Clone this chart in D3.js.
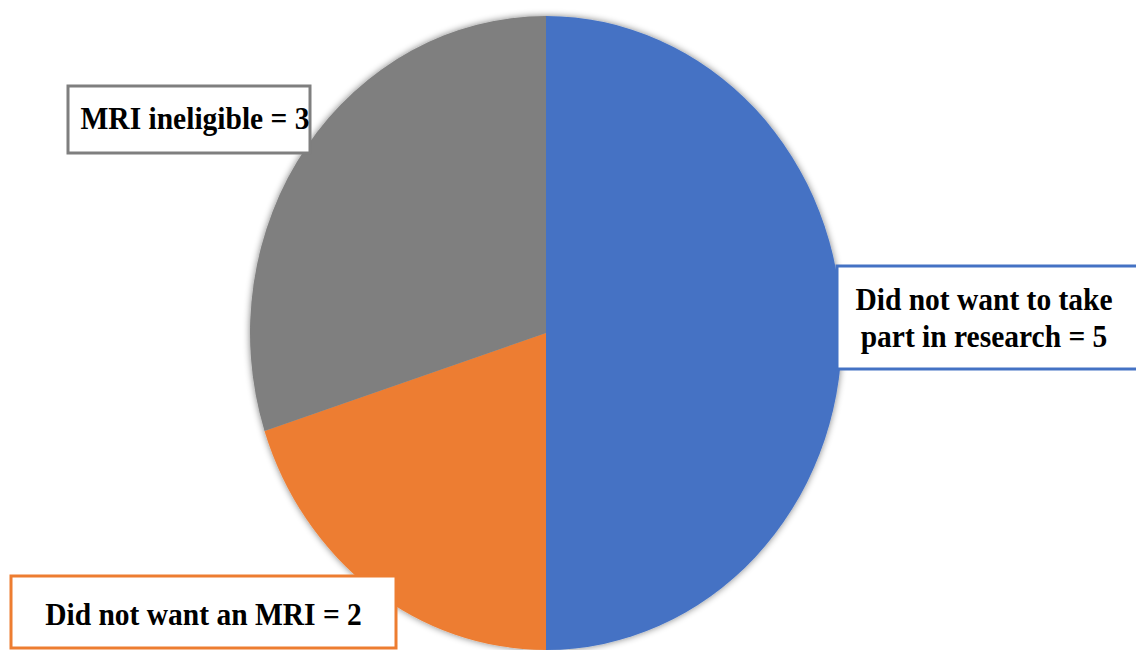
<!DOCTYPE html>
<html>
<head>
<meta charset="utf-8">
<script src="https://cdn.jsdelivr.net/npm/d3@7"></script>
<style>
  html, body { margin: 0; padding: 0; background: #fff; }
  svg { display: block; }
</style>
</head>
<body>
<svg id="chart" width="1136" height="650"></svg>
<script>
// Reasons for not taking part
const categories = ["Did not want to take part in research", "Did not want an MRI", "MRI ineligible"];
const counts = [5, 2, 3];
const colors = ["#4472C4", "#ED7D31", "#7F7F7F"];
const labelLines = [
  ["Did not want to take", "part in research = 5"],
  ["Did not want an MRI = 2"],
  ["MRI ineligible = 3"]
];

const svg = d3.select("#chart");

// Pie is drawn as a circle and stretched vertically into an ellipse
const cx = 546, cy = 333, rx = 296, ry = 317;
const stretch = ry / rx;

const defs = svg.append("defs");
const shadow = defs.append("filter").attr("id", "soft")
  .attr("x", "-10%").attr("y", "-10%").attr("width", "120%").attr("height", "120%");
shadow.append("feGaussianBlur").attr("in", "SourceAlpha").attr("stdDeviation", 3.5).attr("result", "b");
shadow.append("feComponentTransfer").attr("in", "b").attr("result", "s")
  .append("feFuncA").attr("type", "linear").attr("slope", 0.5);
const merge = shadow.append("feMerge");
merge.append("feMergeNode").attr("in", "s");
merge.append("feMergeNode").attr("in", "SourceGraphic");

const pie = d3.pie().sort(null).value(d => d)(counts);
const arc = d3.arc().innerRadius(0).outerRadius(rx);

const g = svg.append("g")
  .attr("transform", `translate(${cx},${cy}) scale(1,${stretch})`)
  .attr("filter", "url(#soft)");

g.selectAll("path.slice")
  .data(pie)
  .join("path")
  .attr("class", "slice")
  .attr("d", arc)
  .attr("fill", (d, i) => colors[i]);

// Label boxes: x, y, width, height, text centre x, first baseline
const boxes = [
  [837, 266, 312, 103, 984, 310],
  [11, 576, 385, 72, 203.5, 625],
  [68, 86, 242, 67, 195, 129]
];

const labels = svg.append("g");
boxes.forEach((b, i) => {
  const lg = labels.append("g");
  lg.append("rect")
    .attr("x", b[0]).attr("y", b[1])
    .attr("width", b[2]).attr("height", b[3])
    .attr("fill", "#fff")
    .attr("stroke", colors[i])
    .attr("stroke-width", 3);
  labelLines[i].forEach((t, j) => {
    lg.append("text")
      .attr("transform", `translate(${b[4]},${b[5] + j * 37}) scale(1,1.08)`)
      .attr("text-anchor", "middle")
      .style("font-family", '"Liberation Serif"')
      .style("font-weight", "bold")
      .style("font-size", "29.5px")
      .attr("fill", "#000")
      .text(t);
  });
});
</script>
</body>
</html>
